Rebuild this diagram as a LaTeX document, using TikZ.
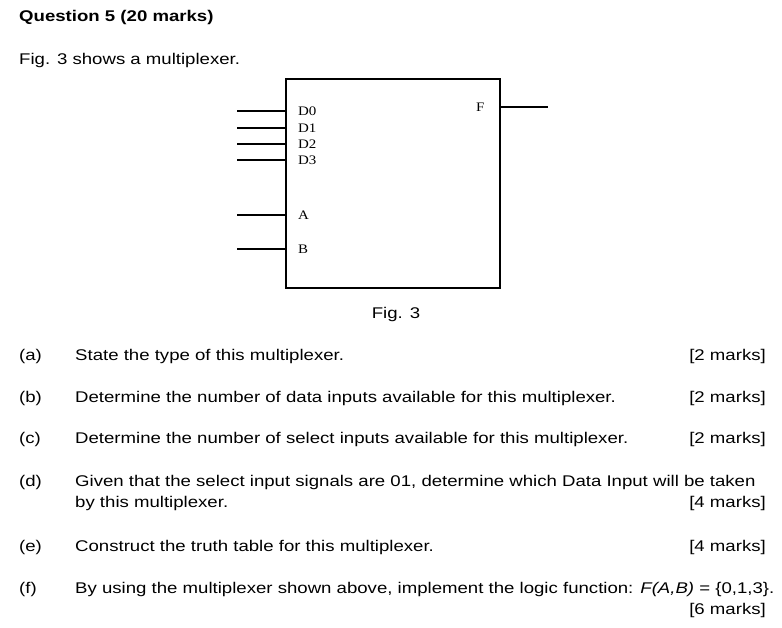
\documentclass[tikz,border=0pt]{standalone}
\usepackage{fontspec}
\setmainfont{Liberation Sans}[FakeStretch=1.2]
\newfontfamily\tms{Liberation Serif}[FakeStretch=1.15]
\begin{document}
\begin{tikzpicture}[x=1pt,y=-1pt,
  txt/.style={anchor=base west,inner sep=0,font=\fontsize{15.5}{18}\selectfont},
  rtxt/.style={anchor=base east,inner sep=0,font=\fontsize{15.5}{18}\selectfont},
  lbl/.style={anchor=west,inner sep=0,font=\tms\fontsize{13}{14}\selectfont},
  wire/.style={line width=1.5pt}]
\useasboundingbox[fill=white] (0,0) rectangle (782,628);
\node[txt,font=\bfseries\fontsize{15.5}{18}\selectfont] (q) at (19,22) {Question 5 (20 marks)};
\node[txt] (f3) at (19,65) {Fig. 3 shows a multiplexer.};
\draw[wire] (286,79) rectangle (500,288);
\foreach \n/\y/\t in {d0/111/D0,d1/128/D1,d2/144/D2,d3/160/D3,a/215/A,b/249/B}{
  \coordinate (\n L) at (237,\y); \coordinate (\n R) at (286,\y);
  \draw[wire] (\n L) -- (\n R);
  \node[lbl] (\n t) at (298,\y) {\t};
}
\node[lbl] (ft) at (476,107) {F};
\coordinate (fL) at (500,107); \coordinate (fR) at (548,107);
\draw[wire] (fL) -- (fR);
\node[txt,anchor=base] (cap) at (396,319) {Fig. 3};
\node[txt] (la) at (19,361) {(a)}; \node[txt] (ta) at (75,361) {State the type of this multiplexer.}; \node[rtxt] (ma) at (766,361) {[2 marks]};
\node[txt] (lb) at (19,402) {(b)}; \node[txt] (tb) at (75,402) {Determine the number of data inputs available for this multiplexer.}; \node[rtxt] (mb) at (766,402) {[2 marks]};
\node[txt] (lc) at (19,443) {(c)}; \node[txt] (tc) at (75,443) {Determine the number of select inputs available for this multiplexer.}; \node[rtxt] (mc) at (766,443) {[2 marks]};
\node[txt] (ld) at (19,486) {(d)}; \node[txt] (td) at (75,486) {Given that the select input signals are 01, determine which Data Input will be taken};
\node[txt] (td2) at (75,507) {by this multiplexer.}; \node[rtxt] (md) at (766,507) {[4 marks]};
\node[txt] (le) at (19,551) {(e)}; \node[txt] (te) at (75,551) {Construct the truth table for this multiplexer.}; \node[rtxt] (me) at (766,551) {[4 marks]};
\node[txt] (lf) at (19,593) {(f)}; \node[txt] (tf) at (75,593) {By using the multiplexer shown above, implement the logic function: \textit{F(A,B)} = \{0,1,3\}.};
\node[rtxt] (mf) at (766,614) {[6 marks]};
\end{tikzpicture}
\end{document}
